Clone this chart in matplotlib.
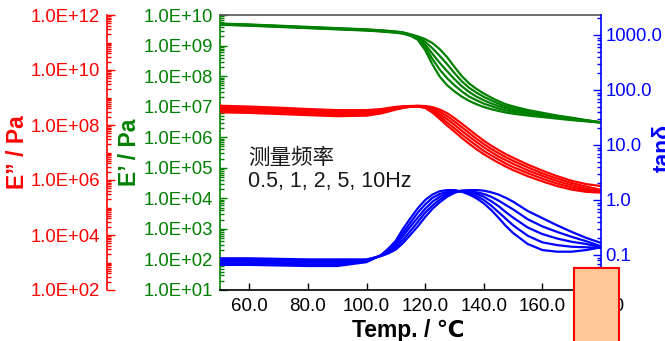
import numpy as np
import matplotlib
matplotlib.use("Agg")
import matplotlib.pyplot as plt
from matplotlib.ticker import LogLocator, FuncFormatter, NullFormatter
from matplotlib.patches import Rectangle

plt.rcParams['font.family'] = ['Liberation Sans', 'DejaVu Sans']

# temperature grid (degC)
temps = [50, 60, 70, 80, 90, 100, 105, 107.5, 110, 112.5, 115, 117.5, 120, 122.5, 125, 127.5,
         130, 132.5, 135, 137.5, 140, 142.5, 145, 147.5, 150, 155, 160, 165, 170, 175, 180]
freqs = ["0.5Hz", "1Hz", "2Hz", "5Hz", "10Hz"]

# log10(E' / Pa), one row per frequency
logE_storage = [
    [9.68, 9.65, 9.61, 9.57, 9.53, 9.49, 9.46, 9.44, 9.42, 9.39, 9.32, 9.19, 8.85, 8.38, 7.98, 7.70,
     7.50, 7.33, 7.19, 7.08, 6.99, 6.92, 6.86, 6.81, 6.77, 6.71, 6.66, 6.61, 6.56, 6.52, 6.48],
    [9.69, 9.66, 9.62, 9.58, 9.54, 9.50, 9.47, 9.45, 9.43, 9.40, 9.33, 9.22, 8.94, 8.56, 8.21, 7.93,
     7.70, 7.50, 7.33, 7.21, 7.10, 7.02, 6.94, 6.88, 6.83, 6.76, 6.70, 6.64, 6.58, 6.53, 6.48],
    [9.70, 9.67, 9.63, 9.59, 9.55, 9.51, 9.48, 9.46, 9.44, 9.41, 9.35, 9.25, 9.03, 8.73, 8.43, 8.16,
     7.90, 7.67, 7.48, 7.33, 7.21, 7.11, 7.02, 6.95, 6.89, 6.80, 6.73, 6.66, 6.60, 6.54, 6.48],
    [9.71, 9.68, 9.64, 9.60, 9.56, 9.52, 9.49, 9.47, 9.45, 9.42, 9.36, 9.27, 9.12, 8.91, 8.66, 8.39,
     8.10, 7.83, 7.62, 7.46, 7.32, 7.21, 7.10, 7.01, 6.95, 6.85, 6.77, 6.69, 6.62, 6.55, 6.49],
    [9.72, 9.69, 9.65, 9.61, 9.57, 9.53, 9.50, 9.48, 9.46, 9.43, 9.37, 9.30, 9.21, 9.08, 8.88, 8.62,
     8.30, 8.00, 7.76, 7.58, 7.43, 7.30, 7.18, 7.08, 7.01, 6.89, 6.80, 6.71, 6.64, 6.56, 6.49],
]

# log10(E'' / Pa)
logE_loss = [
    [8.46, 8.44, 8.40, 8.36, 8.32, 8.34, 8.42, 8.49, 8.56, 8.62, 8.66, 8.67, 8.62, 8.45, 8.22, 7.98,
     7.76, 7.53, 7.32, 7.12, 6.94, 6.78, 6.63, 6.49, 6.36, 6.14, 5.95, 5.78, 5.65, 5.57, 5.54],
    [8.52, 8.50, 8.46, 8.42, 8.38, 8.39, 8.46, 8.52, 8.59, 8.64, 8.67, 8.68, 8.64, 8.50, 8.31, 8.09,
     7.88, 7.66, 7.45, 7.25, 7.06, 6.90, 6.75, 6.60, 6.47, 6.25, 6.05, 5.87, 5.73, 5.62, 5.56],
    [8.58, 8.56, 8.52, 8.47, 8.43, 8.44, 8.50, 8.56, 8.61, 8.65, 8.68, 8.69, 8.66, 8.55, 8.39, 8.21,
     8.01, 7.79, 7.58, 7.38, 7.19, 7.02, 6.86, 6.72, 6.59, 6.35, 6.15, 5.96, 5.81, 5.68, 5.59],
    [8.64, 8.61, 8.57, 8.53, 8.49, 8.49, 8.54, 8.59, 8.64, 8.67, 8.68, 8.69, 8.67, 8.60, 8.48, 8.32,
     8.13, 7.92, 7.71, 7.50, 7.31, 7.13, 6.98, 6.83, 6.70, 6.46, 6.24, 6.05, 5.89, 5.76, 5.64],
    [8.70, 8.67, 8.63, 8.58, 8.54, 8.54, 8.58, 8.62, 8.66, 8.68, 8.69, 8.70, 8.69, 8.65, 8.56, 8.43,
     8.25, 8.05, 7.84, 7.63, 7.43, 7.25, 7.09, 6.94, 6.81, 6.56, 6.34, 6.14, 5.97, 5.85, 5.78],
]

# log10(tan delta)
log_tand = [
    [-1.18, -1.18, -1.19, -1.20, -1.20, -1.13, -1.00, -0.88, -0.74, -0.52, -0.33, -0.15, 0.00, 0.10, 0.16, 0.18,
     0.18, 0.15, 0.10, 0.03, -0.06, -0.18, -0.32, -0.47, -0.60, -0.80, -0.91, -0.94, -0.94, -0.91, -0.86],
    [-1.15, -1.15, -1.16, -1.17, -1.17, -1.12, -1.00, -0.90, -0.78, -0.59, -0.41, -0.23, -0.08, 0.04, 0.11, 0.15,
     0.17, 0.16, 0.12, 0.07, 0.00, -0.10, -0.22, -0.34, -0.46, -0.65, -0.77, -0.82, -0.85, -0.86, -0.87],
    [-1.12, -1.12, -1.13, -1.14, -1.14, -1.11, -1.01, -0.92, -0.82, -0.65, -0.48, -0.32, -0.16, -0.03, 0.06, 0.12,
     0.16, 0.16, 0.14, 0.11, 0.06, -0.02, -0.11, -0.22, -0.32, -0.50, -0.62, -0.70, -0.76, -0.80, -0.86],
    [-1.09, -1.09, -1.10, -1.11, -1.11, -1.09, -1.01, -0.94, -0.86, -0.72, -0.56, -0.40, -0.23, -0.10, 0.01, 0.09,
     0.14, 0.17, 0.16, 0.14, 0.11, 0.06, -0.01, -0.09, -0.17, -0.35, -0.48, -0.58, -0.67, -0.75, -0.84],
    [-1.06, -1.06, -1.07, -1.08, -1.08, -1.08, -1.02, -0.97, -0.90, -0.78, -0.63, -0.48, -0.31, -0.16, -0.04, 0.06,
     0.13, 0.17, 0.18, 0.18, 0.17, 0.14, 0.10, 0.04, -0.03, -0.20, -0.33, -0.46, -0.58, -0.69, -0.78],
]

xticks = [60, 80, 100, 120, 140, 160, 180]

GREEN = '#008000'
RED = '#ff0000'
BLUE = '#0000ff'
FS = 13.3

fig = plt.figure(figsize=(6.65, 3.41), dpi=100)
W, H = 665, 341
ax = fig.add_axes([220 / W, 1 - 290 / H, 381 / W, 275 / H])
ax_red = ax.twinx()
ax_tan = ax.twinx()

for row in logE_storage:
    ax.plot(temps, 10 ** np.array(row), color=GREEN, lw=1.6)
for row in logE_loss:
    ax_red.plot(temps, 10 ** np.array(row), color=RED, lw=1.6)
for row in log_tand:
    ax_tan.plot(temps, 10 ** np.array(row), color=BLUE, lw=1.6)

sci = FuncFormatter(lambda v, p: f"{v:.1E}")

# E' axis (green, left)
ax.set_xlim(50, 180)
ax.set_yscale('log')
ax.set_ylim(1e1, 1e10)
ax.yaxis.set_major_locator(LogLocator(base=10, numticks=30))
ax.yaxis.set_minor_locator(LogLocator(base=10, subs=np.arange(2, 10) * 1.0, numticks=100))
ax.yaxis.set_major_formatter(sci)
ax.yaxis.set_minor_formatter(NullFormatter())
ax.tick_params(axis='y', which='major', direction='in', length=5, width=1, colors=GREEN, labelsize=FS, pad=5)
ax.tick_params(axis='y', which='minor', direction='in', length=3, width=1, colors=GREEN)
ax.set_xticks(xticks)
ax.set_xticklabels([f"{t:.1f}" for t in xticks])
ax.tick_params(axis='x', direction='in', length=5, width=1, colors='black', labelsize=13.5, pad=6)
ax.spines['left'].set_color(GREEN)
ax.spines['top'].set_color('#555555')
ax.spines['right'].set_visible(False)
for s in ax.spines.values():
    s.set_linewidth(1.2)

# E'' axis (red, far left)
ax_red.set_yscale('log')
ax_red.set_ylim(1e2, 1e12)
ax_red.yaxis.set_ticks_position('left')
ax_red.yaxis.set_label_position('left')
ax_red.spines['left'].set_position(('axes', -113 / 381))
for s in ['top', 'bottom', 'right']:
    ax_red.spines[s].set_visible(False)
ax_red.spines['left'].set_visible(True)
ax_red.spines['left'].set_color(RED)
ax_red.spines['left'].set_linewidth(1.2)
ax_red.yaxis.set_major_locator(LogLocator(base=100, numticks=30))
ax_red.yaxis.set_minor_locator(LogLocator(base=10, subs=np.arange(1, 10) * 1.0, numticks=100))
ax_red.yaxis.set_major_formatter(sci)
ax_red.yaxis.set_minor_formatter(NullFormatter())
ax_red.tick_params(axis='y', which='major', direction='in', length=6, width=1, colors=RED, labelsize=FS, pad=5)
ax_red.tick_params(axis='y', which='minor', direction='in', length=3, width=1, colors=RED)

# tan delta axis (blue, right)
ax_tan.set_yscale('log')
ax_tan.set_ylim(0.0231, 2310)
for s in ['top', 'bottom', 'left']:
    ax_tan.spines[s].set_visible(False)
ax_tan.spines['right'].set_color(BLUE)
ax_tan.spines['right'].set_linewidth(1.2)
ax_tan.yaxis.set_major_locator(LogLocator(base=10, numticks=30))
ax_tan.yaxis.set_minor_locator(LogLocator(base=10, subs=np.arange(2, 10) * 1.0, numticks=100))
ax_tan.yaxis.set_major_formatter(FuncFormatter(lambda v, p: f"{v:.1f}"))
ax_tan.yaxis.set_minor_formatter(NullFormatter())
ax_tan.tick_params(axis='y', which='major', direction='in', length=6, width=1, colors=BLUE, labelsize=FS, pad=3)
ax_tan.tick_params(axis='y', which='minor', direction='in', length=3, width=1, colors=BLUE)

# axis titles
fig.text(17 / W, 1 - 152 / H, "E” / Pa", color=RED, fontsize=16.5, fontweight='bold',
         rotation=90, ha='center', va='center')
fig.text(129 / W, 1 - 152 / H, "E’ / Pa", color=GREEN, fontsize=16.5, fontweight='bold',
         rotation=90, ha='center', va='center')
fig.text(663 / W, 1 - 148 / H, "tanδ", color=BLUE, fontsize=16.5, fontweight='bold',
         rotation=90, ha='center', va='center')
fig.text(408 / W, 1 - 330 / H, "Temp. / ℃", color='black', fontsize=16.5, fontweight='bold',
         ha='center', va='center')

# frequency note
ax.text(28 / 381, (290 - 158) / 275, "测量频率", transform=ax.transAxes, fontsize=15.5,
        family=['Noto Sans CJK SC', 'DejaVu Sans'], color='#1a1a1a', ha='left', va='center')
ax.text(28 / 381, (290 - 182) / 275, "0.5, 1, 2, 5, 10Hz", transform=ax.transAxes, fontsize=15.5,
        color='#1a1a1a', ha='left', va='center')

# orange box over the bottom right corner
fig.patches.append(Rectangle((574 / W, -0.02), 45 / W, 1 - 268 / H + 0.02, transform=fig.transFigure,
                             facecolor='#ffc896', edgecolor=RED, lw=1.5, zorder=10))

fig.savefig("out.png", dpi=100)
